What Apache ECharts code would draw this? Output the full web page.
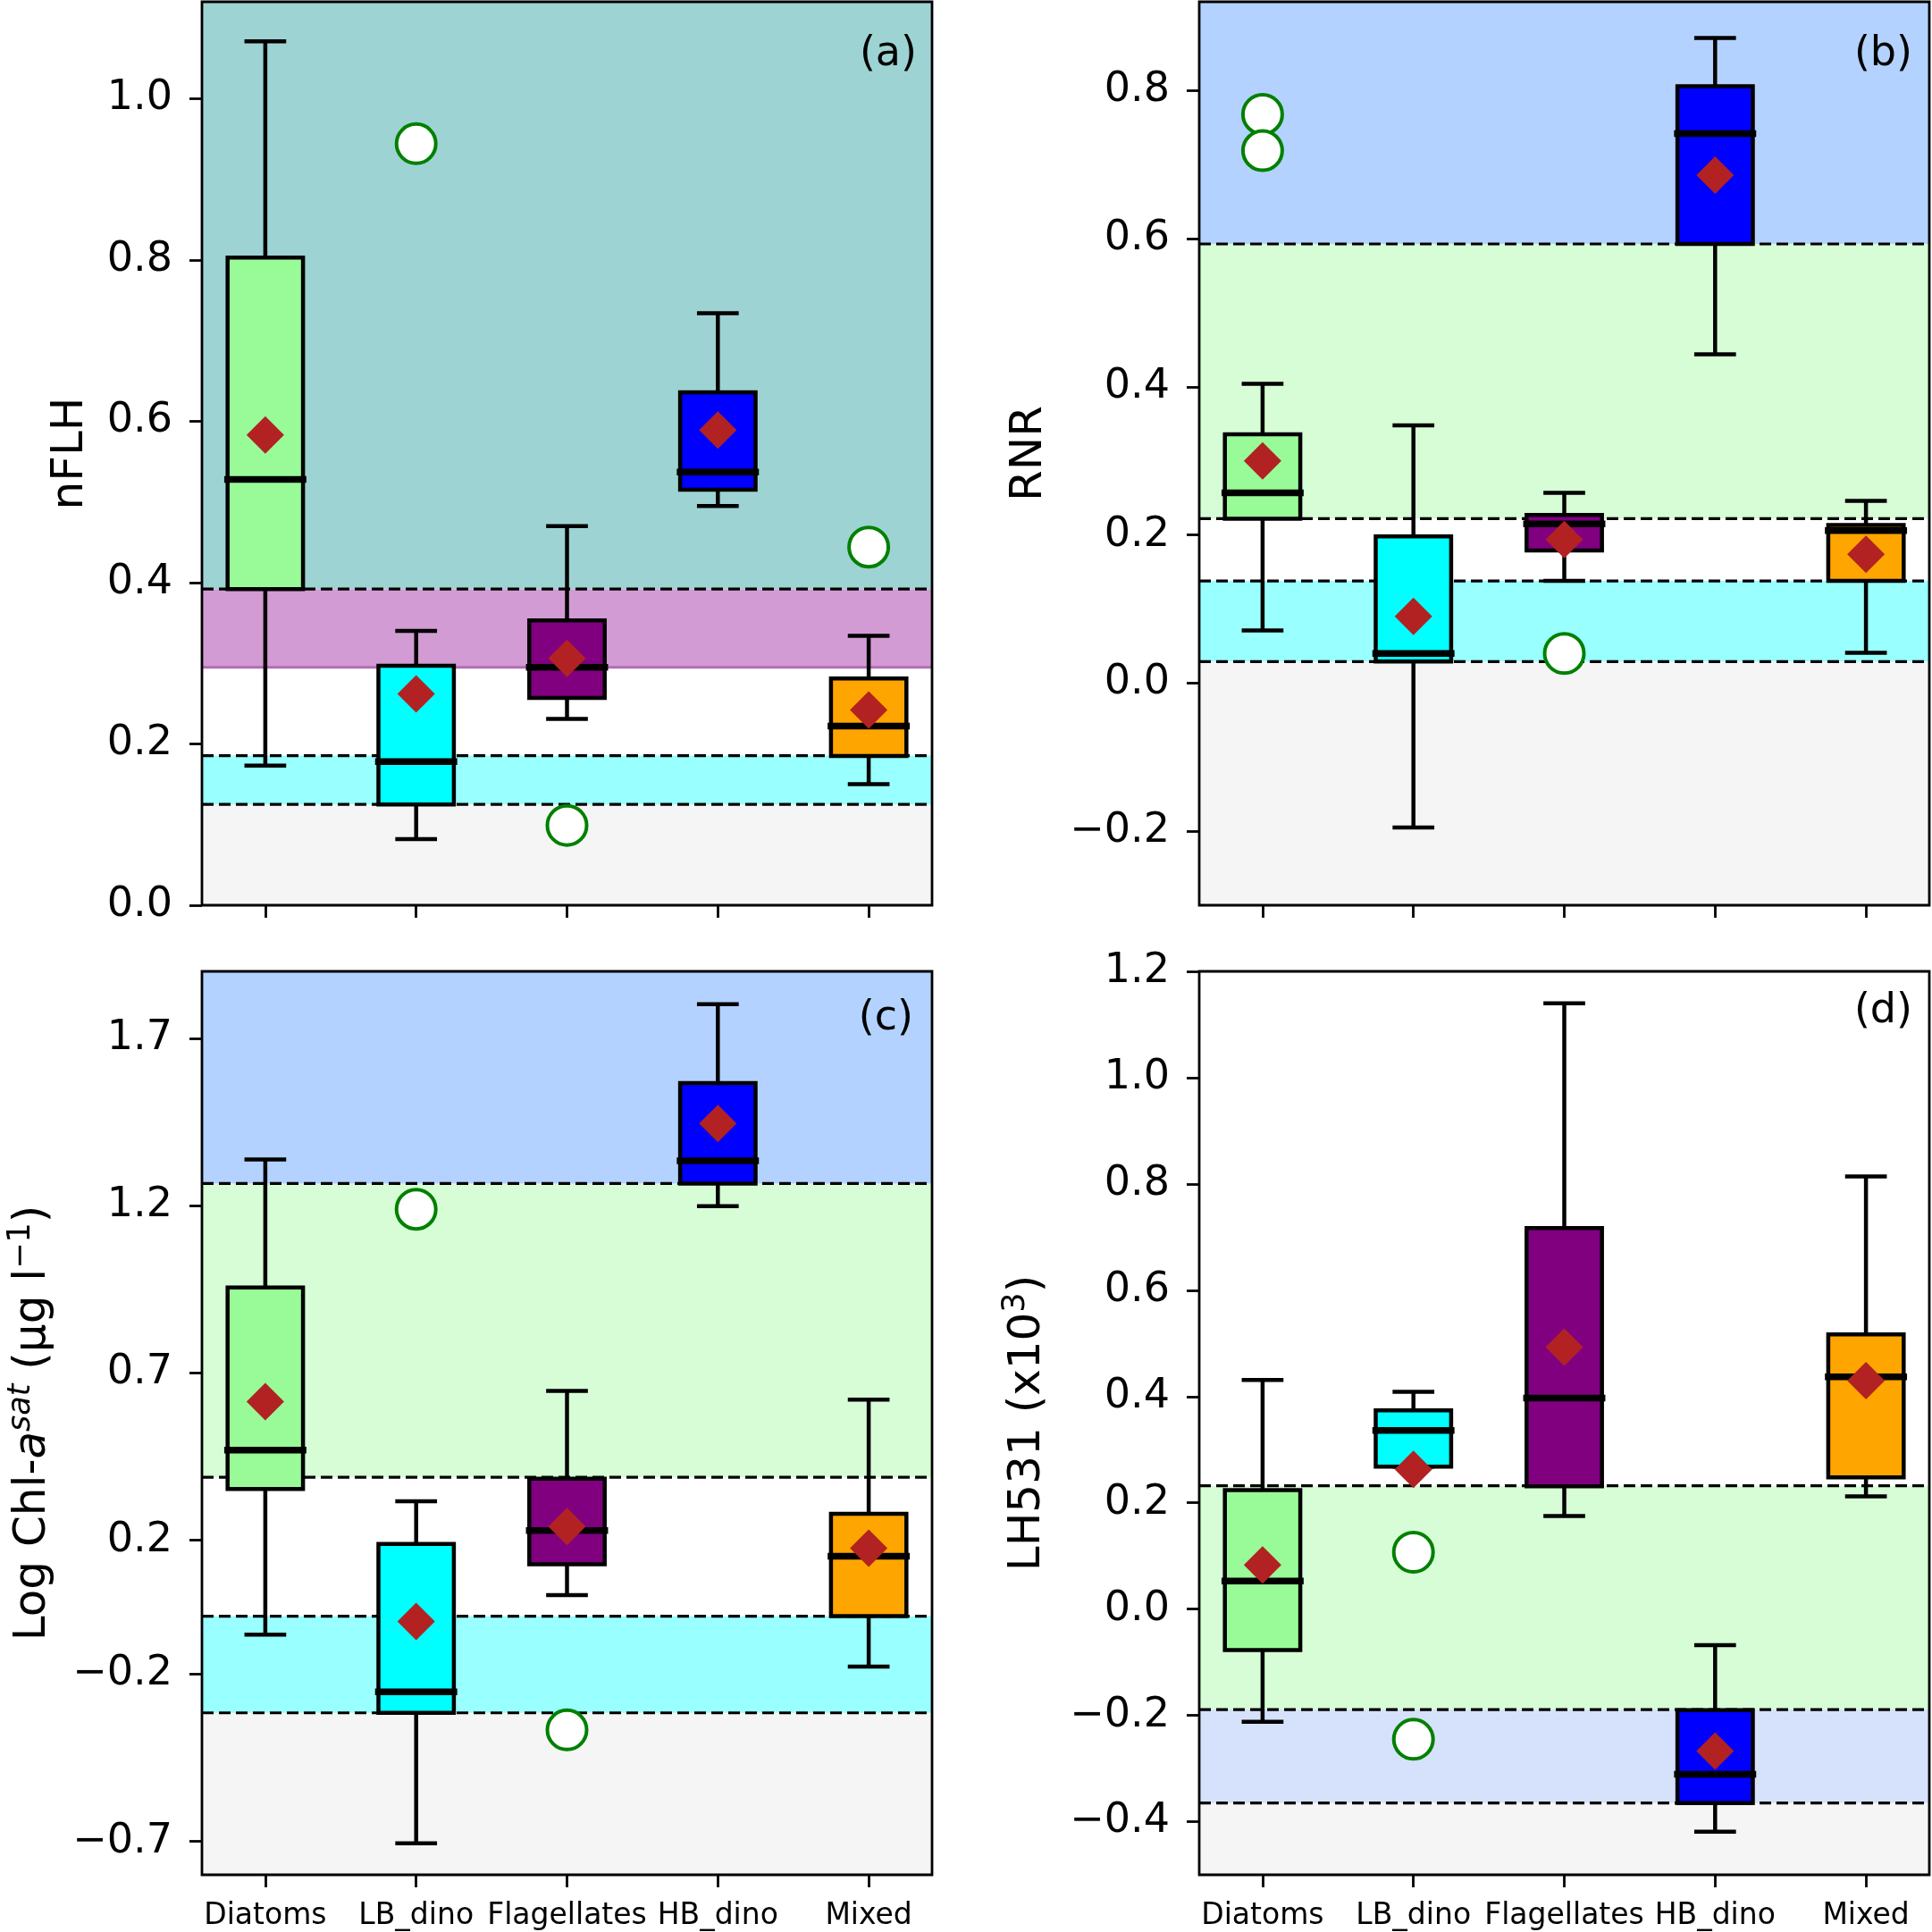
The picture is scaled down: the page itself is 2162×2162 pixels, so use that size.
<!DOCTYPE html>
<html>
<head>
<meta charset="utf-8">
<script src="https://cdn.jsdelivr.net/npm/echarts@6/dist/echarts.min.js"></script>
<style>
html,body{margin:0;padding:0;background:#fff;}
#chart{width:2162px;height:2162px;}
</style>
</head>
<body>
<div id="chart"></div>
<script>
// ---------------- DATA ----------------
const categories = ['Diatoms', 'LB_dino', 'Flagellates', 'HB_dino', 'Mixed'];

// (a) nFLH
const nflhLow    = [0.173, 0.082, 0.231, 0.495, 0.150];
const nflhQ1     = [0.392, 0.125, 0.257, 0.515, 0.185];
const nflhMedian = [0.528, 0.178, 0.295, 0.537, 0.222];
const nflhQ3     = [0.803, 0.297, 0.353, 0.636, 0.281];
const nflhHigh   = [1.071, 0.340, 0.470, 0.734, 0.334];
const nflhMean   = [0.583, 0.262, 0.306, 0.589, 0.242];
const nflhOutliers = [[2, 0.944], [3, 0.099], [5, 0.444]];
const nflhBands  = [[0.0, 0.125], [0.125, 0.1855], [0.295, 0.392], [0.392, 1.12]];
const nflhDashed = [0.392, 0.1855, 0.125];
const nflhSolid  = [0.295];
const nflhTicks  = [0.0, 0.2, 0.4, 0.6, 0.8, 1.0];

// (b) RNR
const rnrLow    = [0.071, -0.195, 0.138, 0.444, 0.041];
const rnrQ1     = [0.222, 0.029, 0.179, 0.593, 0.138];
const rnrMedian = [0.257, 0.040, 0.215, 0.742, 0.206];
const rnrQ3     = [0.336, 0.198, 0.227, 0.806, 0.2135];
const rnrHigh   = [0.404, 0.348, 0.257, 0.871, 0.246];
const rnrMean   = [0.300, 0.090, 0.194, 0.686, 0.174];
const rnrOutliers = [[1, 0.768], [1, 0.719], [3, 0.040]];
const rnrBands  = [[-0.30, 0.029], [0.029, 0.138], [0.222, 0.593], [0.593, 0.92]];
const rnrDashed = [0.593, 0.222, 0.138, 0.029];
const rnrTicks  = [-0.2, 0.0, 0.2, 0.4, 0.6, 0.8];

// (c) Log Chl-a sat
const chlLow    = [-0.082, -0.706, 0.036, 1.198, -0.178];
const chlQ1     = [0.353, -0.316, 0.128, 1.266, -0.027];
const chlMedian = [0.469, -0.253, 0.229, 1.334, 0.152];
const chlQ3     = [0.955, 0.189, 0.384, 1.566, 0.279];
const chlHigh   = [1.338, 0.316, 0.646, 1.802, 0.620];
const chlMean   = [0.614, -0.043, 0.241, 1.445, 0.176];
const chlOutliers = [[2, 1.189], [3, -0.367]];
const chlBands  = [[-0.80, -0.316], [-0.316, -0.027], [0.388, 1.266], [1.266, 1.90]];
const chlDashed = [1.266, 0.388, -0.027, -0.316];
const chlTicks  = [-0.7, -0.2, 0.2, 0.7, 1.2, 1.7];

// (d) LH531
const lhLow    = [-0.212, 0.268, 0.175, -0.419, 0.212];
const lhQ1     = [-0.077, 0.268, 0.231, -0.365, 0.248];
const lhMedian = [0.053, 0.336, 0.397, -0.311, 0.437];
const lhQ3     = [0.224, 0.374, 0.717, -0.190, 0.517];
const lhHigh   = [0.431, 0.409, 1.140, -0.068, 0.814];
const lhMean   = [0.083, 0.263, 0.493, -0.267, 0.430];
const lhOutliers = [[2, 0.107], [2, -0.245]];
const lhBands  = [[-0.50, -0.365], [-0.365, -0.189], [-0.189, 0.232]];
const lhDashed = [0.232, -0.189, -0.365];
const lhTicks  = [-0.4, -0.2, 0.0, 0.2, 0.4, 0.6, 0.8, 1.0, 1.2];

// ---------------- STYLE ----------------
const boxColors = ['#98fb98', '#00ffff', '#800080', '#0000ff', '#ffa500'];
const FONT = 'DejaVu Sans';
const X_MIN = 0.58, X_MAX = 5.42;

const panels = [
  { low: nflhLow, q1: nflhQ1, med: nflhMedian, q3: nflhQ3, high: nflhHigh, mean: nflhMean,
    out: nflhOutliers, bands: nflhBands, bandColors: ['#f5f5f5', '#99ffff', '#d39bd3', '#9ed3d3'],
    dashed: nflhDashed, solid: nflhSolid, ticks: nflhTicks, ymin: 0, ymax: 1.12,
    grid: { left: 226, top: 2, width: 817, height: 1011 },
    name: 'nFLH', nameGap: 116, label: '(a)', lx: 1026, ly: 61, showX: false },
  { low: rnrLow, q1: rnrQ1, med: rnrMedian, q3: rnrQ3, high: rnrHigh, mean: rnrMean,
    out: rnrOutliers, bands: rnrBands, bandColors: ['#f5f5f5', '#99ffff', '#d6fdd6', '#b3d2ff'],
    dashed: rnrDashed, solid: [], ticks: rnrTicks, ymin: -0.30, ymax: 0.92,
    grid: { left: 1342, top: 2, width: 817, height: 1011 },
    name: 'RNR', nameGap: 159, label: '(b)', lx: 2140, ly: 61, showX: false },
  { low: chlLow, q1: chlQ1, med: chlMedian, q3: chlQ3, high: chlHigh, mean: chlMean,
    out: chlOutliers, bands: chlBands, bandColors: ['#f5f5f5', '#99ffff', '#d6fdd6', '#b3d2ff'],
    dashed: chlDashed, solid: [], ticks: chlTicks, ymin: -0.80, ymax: 1.90,
    grid: { left: 226, top: 1087, width: 817, height: 1011 },
    name: 'Log Chl-{it|a}{sup|sat} (μg l{sup2|−1})', nameGap: 158, label: '(c)', lx: 1022, ly: 1140, showX: true },
  { low: lhLow, q1: lhQ1, med: lhMedian, q3: lhQ3, high: lhHigh, mean: lhMean,
    out: lhOutliers, bands: lhBands, bandColors: ['#f5f5f5', '#d6e1fc', '#d6fdd6'],
    dashed: lhDashed, solid: [], ticks: lhTicks, ymin: -0.50, ymax: 1.20,
    grid: { left: 1342, top: 1087, width: 817, height: 1011 },
    name: 'LH531 (x10{sup2|3})', nameGap: 161, label: '(d)', lx: 2140, ly: 1132, showX: true }
];

function fmt(v) {
  const s = Math.abs(v).toFixed(1);
  return (v < -1e-9 ? '\u2212' : '') + s;
}

const grids = [], xAxes = [], yAxes = [], series = [], graphics = [];

panels.forEach((p, i) => {
  grids.push(Object.assign({ containLabel: false, show: false }, p.grid));
  xAxes.push({
    type: 'value', gridIndex: i, min: X_MIN, max: X_MAX,
    axisLine: { show: false, onZero: false }, splitLine: { show: false }, axisPointer: { show: false },
    axisTick: { show: true, customValues: [1, 2, 3, 4, 5], length: 14, lineStyle: { color: '#000', width: 2.8 } },
    axisLabel: { show: p.showX, customValues: [1, 2, 3, 4, 5], margin: 30,
      formatter: v => categories[Math.round(v) - 1], fontSize: 33, color: '#000', fontFamily: FONT }
  });
  yAxes.push({
    type: 'value', gridIndex: i, min: p.ymin, max: p.ymax,
    axisLine: { show: false, onZero: false }, splitLine: { show: false }, axisPointer: { show: false },
    axisTick: { show: true, customValues: p.ticks, length: 14, lineStyle: { color: '#000', width: 2.8 } },
    axisLabel: { customValues: p.ticks, formatter: fmt, fontSize: 46, color: '#000', fontFamily: FONT, margin: 33 },
    name: p.name, nameLocation: 'middle', nameGap: p.nameGap,
    nameTextStyle: {
      fontSize: 50, color: '#000', fontFamily: FONT, lineHeight: 62,
      rich: {
        it: { fontSize: 50, fontStyle: 'italic', fontFamily: FONT, color: '#000', lineHeight: 62 },
        sup: { fontSize: 35, fontStyle: 'italic', fontFamily: FONT, color: '#000', verticalAlign: 'top', lineHeight: 34 },
        sup2: { fontSize: 35, fontFamily: FONT, color: '#000', verticalAlign: 'top', lineHeight: 34 }
      }
    }
  });

  // background bands
  series.push({
    type: 'custom', xAxisIndex: i, yAxisIndex: i, z: 1, silent: true, clip: true,
    data: p.bands.map((b, k) => [X_MIN, b[0], X_MAX, b[1], k]),
    encode: { x: [0, 2], y: [1, 3] },
    renderItem: (params, api) => {
      const a = api.coord([api.value(0), api.value(3)]);
      const b = api.coord([api.value(2), api.value(1)]);
      return { type: 'rect', shape: { x: a[0], y: a[1], width: b[0] - a[0], height: b[1] - a[1] },
        style: { fill: p.bandColors[api.value(4)] } };
    }
  });
  // solid band edge (purple)
  if (p.solid.length) {
    series.push({
      type: 'custom', xAxisIndex: i, yAxisIndex: i, z: 2, silent: true,
      data: p.solid.map(v => [X_MIN, v, X_MAX]), encode: { x: [0, 2], y: 1 },
      renderItem: (params, api) => {
        const a = api.coord([api.value(0), api.value(1)]);
        const b = api.coord([api.value(2), api.value(1)]);
        return { type: 'line', shape: { x1: a[0], y1: a[1], x2: b[0], y2: b[1] },
          style: { stroke: '#b46cb4', lineWidth: 3 } };
      }
    });
  }
  // dashed threshold lines
  series.push({
    type: 'custom', xAxisIndex: i, yAxisIndex: i, z: 2, silent: true,
    data: p.dashed.map(v => [X_MIN, v, X_MAX]), encode: { x: [0, 2], y: 1 },
    renderItem: (params, api) => {
      const a = api.coord([api.value(0), api.value(1)]);
      const b = api.coord([api.value(2), api.value(1)]);
      return { type: 'line', shape: { x1: a[0], y1: a[1], x2: b[0], y2: b[1] },
        style: { stroke: '#000', lineWidth: 3.2, lineDash: [13, 6] } };
    }
  });
  // boxes
  series.push({
    type: 'custom', xAxisIndex: i, yAxisIndex: i, z: 3, silent: true,
    data: categories.map((c, k) => [k + 1, p.low[k], p.q1[k], p.med[k], p.q3[k], p.high[k], k]),
    encode: { x: 0, y: [1, 5] },
    renderItem: (params, api) => {
      const x = api.value(0);
      const pl = api.coord([x, api.value(1)]);
      const p1 = api.coord([x, api.value(2)]);
      const pm = api.coord([x, api.value(3)]);
      const p3 = api.coord([x, api.value(4)]);
      const ph = api.coord([x, api.value(5)]);
      const w = api.size([0.5, 0])[0];
      const cw = w / 2;
      const cx = pl[0];
      const ls = { stroke: '#000', lineWidth: 4.5, lineCap: 'butt' };
      const cs = { stroke: '#000', lineWidth: 4.5, lineCap: 'square' };
      const children = [];
      if (Math.abs(ph[1] - p3[1]) > 0.5) children.push({ type: 'line', shape: { x1: cx, y1: p3[1], x2: cx, y2: ph[1] }, style: ls });
      if (Math.abs(pl[1] - p1[1]) > 0.5) children.push({ type: 'line', shape: { x1: cx, y1: p1[1], x2: cx, y2: pl[1] }, style: ls });
      children.push(
        { type: 'line', shape: { x1: cx - cw / 2, y1: ph[1], x2: cx + cw / 2, y2: ph[1] }, style: cs },
        { type: 'line', shape: { x1: cx - cw / 2, y1: pl[1], x2: cx + cw / 2, y2: pl[1] }, style: cs },
        { type: 'rect', shape: { x: cx - w / 2, y: p3[1], width: w, height: p1[1] - p3[1] },
          style: { fill: boxColors[api.value(6)], stroke: '#000', lineWidth: 4.5 } },
        { type: 'line', shape: { x1: cx - w / 2, y1: pm[1], x2: cx + w / 2, y2: pm[1] },
          style: { stroke: '#000', lineWidth: 7.5, lineCap: 'square' } }
      );
      return { type: 'group', children: children };
    }
  });
  // means
  series.push({
    type: 'scatter', xAxisIndex: i, yAxisIndex: i, z: 4, silent: true,
    symbol: 'diamond', symbolSize: [42, 42],
    itemStyle: { color: '#b22222', opacity: 1 },
    data: p.mean.map((m, k) => [k + 1, m])
  });
  // outliers
  series.push({
    type: 'scatter', xAxisIndex: i, yAxisIndex: i, z: 5, silent: true,
    symbol: 'circle', symbolSize: 44,
    itemStyle: { color: '#ffffff', borderColor: '#008000', borderWidth: 4, opacity: 1 },
    data: p.out
  });
  // frame
  series.push({
    type: 'custom', xAxisIndex: i, yAxisIndex: i, z: 6, silent: true, clip: false,
    data: [[X_MIN, p.ymin, X_MAX, p.ymax]], encode: { x: [0, 2], y: [1, 3] },
    renderItem: (params, api) => {
      const a = api.coord([api.value(0), api.value(3)]);
      const b = api.coord([api.value(2), api.value(1)]);
      return { type: 'rect', shape: { x: a[0], y: a[1], width: b[0] - a[0], height: b[1] - a[1] },
        style: { fill: 'none', stroke: '#000', lineWidth: 2.8 } };
    }
  });

  graphics.push({
    type: 'text', x: p.lx, y: p.ly, z: 100,
    style: { text: p.label, fontSize: 46, fontFamily: FONT, fill: '#000', align: 'right', verticalAlign: 'middle' }
  });
});

const chart = echarts.init(document.getElementById('chart'), null, { renderer: 'canvas' });
chart.setOption({
  backgroundColor: '#ffffff',
  animation: false,
  grid: grids, xAxis: xAxes, yAxis: yAxes, series: series, graphic: graphics
});
</script>
</body>
</html>
